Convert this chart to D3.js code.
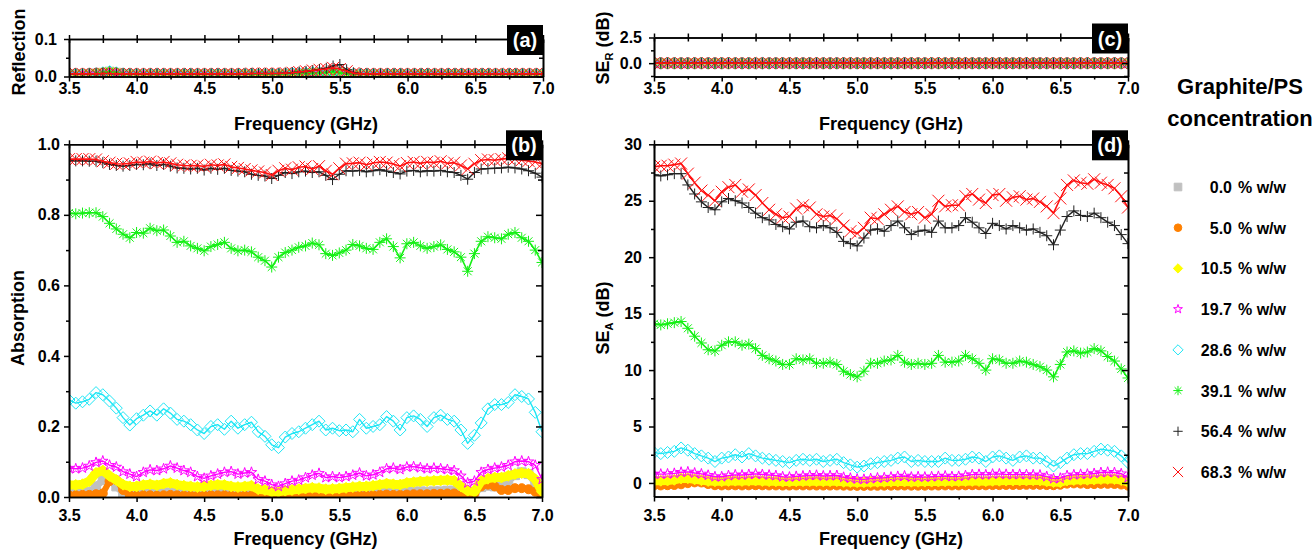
<!DOCTYPE html>
<html><head><meta charset="utf-8">
<script src="https://cdn.jsdelivr.net/npm/d3@7"></script>
<style>body{margin:0;background:#fff;} svg{display:block;}</style>
</head><body><svg id="c" width="1312" height="551"></svg>
<script>
// ---------------- DATA ----------------
const freq = [3.50,3.55,3.60,3.65,3.70,3.75,3.80,3.85,3.90,3.95,
4.00,4.05,4.10,4.15,4.20,4.25,4.30,4.35,4.40,4.45,
4.50,4.55,4.60,4.65,4.70,4.75,4.80,4.85,4.90,4.95,
5.00,5.05,5.10,5.15,5.20,5.25,5.30,5.35,5.40,5.45,
5.50,5.55,5.60,5.65,5.70,5.75,5.80,5.85,5.90,5.95,
6.00,6.05,6.10,6.15,6.20,6.25,6.30,6.35,6.40,6.45,
6.50,6.55,6.60,6.65,6.70,6.75,6.80,6.85,6.90,6.95,7.00];

const concentrations = ["0.0","5.0","10.5","19.7","28.6","39.1","56.4","68.3"];
const xMajorTicks = [3.5,4.0,4.5,5.0,5.5,6.0,6.5,7.0];
const xMinorTicks = [3.75,4.25,4.75,5.25,5.75,6.25,6.75];

// (a) Reflection
const refl683 = [0.007,0.007,0.007,0.007,0.007,0.008,0.008,0.007,0.007,0.007,
0.007,0.007,0.007,0.007,0.007,0.007,0.007,0.007,0.007,0.007,
0.007,0.007,0.007,0.007,0.007,0.007,0.007,0.008,0.008,0.008,
0.008,0.008,0.009,0.010,0.012,0.014,0.016,0.018,0.020,0.023,
0.020,0.014,0.009,0.007,0.007,0.007,0.007,0.007,0.007,0.007,
0.007,0.007,0.007,0.007,0.007,0.007,0.007,0.007,0.007,0.007,
0.007,0.007,0.007,0.007,0.007,0.007,0.007,0.007,0.007,0.007,0.007];
const refl564 = [0.007,0.007,0.007,0.007,0.007,0.008,0.008,0.007,0.007,0.007,
0.007,0.007,0.007,0.007,0.007,0.007,0.007,0.007,0.007,0.007,
0.007,0.007,0.007,0.007,0.007,0.007,0.007,0.008,0.008,0.008,
0.008,0.008,0.009,0.010,0.012,0.014,0.016,0.019,0.022,0.028,
0.032,0.018,0.010,0.007,0.007,0.007,0.007,0.007,0.007,0.007,
0.007,0.007,0.007,0.007,0.007,0.007,0.007,0.007,0.007,0.007,
0.007,0.007,0.007,0.007,0.007,0.007,0.007,0.007,0.007,0.007,0.007];
const reflLow = [0.006,0.006,0.006,0.007,0.008,0.010,0.013,0.010,0.007,0.006,
0.006,0.006,0.006,0.006,0.006,0.006,0.006,0.006,0.006,0.006,
0.006,0.006,0.006,0.006,0.006,0.006,0.006,0.006,0.006,0.006,
0.006,0.006,0.007,0.008,0.008,0.009,0.010,0.010,0.011,0.012,
0.010,0.008,0.006,0.006,0.006,0.006,0.006,0.006,0.006,0.006,
0.006,0.006,0.006,0.006,0.006,0.006,0.006,0.006,0.006,0.006,
0.006,0.006,0.006,0.006,0.006,0.006,0.006,0.006,0.006,0.006,0.006];

// (c) SE_R (all concentrations coincide at ~0 dB)
const seRAll = [0,0,0,0,0,0,0,0,0,0, 0,0,0,0,0,0,0,0,0,0, 0,0,0,0,0,0,0,0,0,0,
0,0,0,0,0,0,0,0,0,0, 0,0,0,0,0,0,0,0,0,0, 0,0,0,0,0,0,0,0,0,0, 0,0,0,0,0,0,0,0,0,0,0];

// (b) Absorption
const abs00 = [0.008,0.008,0.010,0.015,0.030,0.048,0.050,0.030,0.012,0.008,
0.010,0.012,0.012,0.010,0.012,0.013,0.012,0.010,0.010,0.008,
0.008,0.010,0.010,0.012,0.010,0.008,0.008,0.010,0.006,0.005,
0.004,0.004,0.005,0.006,0.006,0.007,0.008,0.008,0.007,0.007,
0.008,0.008,0.009,0.010,0.010,0.010,0.012,0.014,0.013,0.012,
0.014,0.015,0.016,0.015,0.016,0.016,0.018,0.018,0.012,0.006,
0.010,0.028,0.032,0.030,0.028,0.045,0.062,0.070,0.065,0.040,0.008];
const abs50 = [0.005,0.005,0.006,0.006,0.008,0.010,0.045,0.048,0.020,0.005,
0.004,0.005,0.005,0.004,0.005,0.006,0.005,0.004,0.004,0.004,
0.004,0.005,0.005,0.005,0.004,0.004,0.004,0.004,0.003,0.003,
0.002,0.002,0.003,0.003,0.003,0.003,0.004,0.004,0.003,0.003,
0.003,0.004,0.004,0.005,0.005,0.005,0.006,0.007,0.006,0.006,
0.007,0.008,0.008,0.008,0.009,0.009,0.010,0.010,0.006,0.004,
0.010,0.030,0.035,0.030,0.020,0.020,0.025,0.025,0.022,0.015,0.005];
const abs105 = [0.034,0.034,0.036,0.045,0.068,0.075,0.060,0.048,0.035,0.030,
0.030,0.034,0.036,0.033,0.038,0.040,0.035,0.032,0.030,0.028,
0.030,0.033,0.035,0.034,0.030,0.028,0.030,0.032,0.022,0.020,
0.015,0.015,0.018,0.020,0.022,0.024,0.026,0.025,0.022,0.023,
0.024,0.026,0.028,0.030,0.030,0.032,0.035,0.038,0.036,0.035,
0.040,0.042,0.044,0.045,0.046,0.047,0.048,0.046,0.030,0.018,
0.015,0.045,0.052,0.055,0.055,0.060,0.065,0.068,0.066,0.050,0.015];
const abs197 = [0.082,0.080,0.082,0.088,0.098,0.102,0.090,0.085,0.072,0.065,
0.058,0.070,0.077,0.075,0.080,0.088,0.082,0.075,0.070,0.058,
0.053,0.060,0.065,0.070,0.072,0.065,0.068,0.070,0.050,0.045,
0.035,0.030,0.038,0.045,0.048,0.055,0.062,0.067,0.055,0.058,
0.055,0.058,0.062,0.068,0.060,0.063,0.070,0.080,0.082,0.078,
0.085,0.086,0.083,0.080,0.082,0.080,0.078,0.075,0.060,0.040,
0.045,0.070,0.078,0.082,0.085,0.090,0.100,0.102,0.100,0.090,0.050];
const abs286 = [0.275,0.266,0.270,0.277,0.296,0.290,0.272,0.252,0.225,0.204,
0.222,0.232,0.244,0.232,0.250,0.238,0.220,0.215,0.205,0.190,
0.180,0.200,0.205,0.192,0.215,0.195,0.205,0.212,0.185,0.172,
0.148,0.140,0.170,0.180,0.185,0.195,0.205,0.215,0.190,0.195,
0.188,0.190,0.185,0.220,0.195,0.200,0.205,0.228,0.215,0.190,
0.225,0.230,0.220,0.200,0.225,0.232,0.220,0.215,0.190,0.152,
0.175,0.210,0.250,0.262,0.262,0.268,0.290,0.285,0.278,0.240,0.185];
const abs391 = [0.805,0.803,0.805,0.806,0.806,0.795,0.776,0.760,0.745,0.735,
0.750,0.748,0.762,0.755,0.757,0.740,0.722,0.725,0.712,0.705,
0.698,0.710,0.716,0.722,0.705,0.698,0.700,0.695,0.680,0.670,
0.652,0.680,0.693,0.700,0.708,0.712,0.720,0.715,0.690,0.685,
0.692,0.700,0.716,0.712,0.705,0.702,0.722,0.732,0.710,0.678,
0.718,0.722,0.712,0.705,0.710,0.715,0.702,0.695,0.680,0.640,
0.690,0.725,0.738,0.735,0.732,0.745,0.750,0.735,0.725,0.700,0.665];
const abs564 = [0.953,0.953,0.953,0.952,0.952,0.948,0.943,0.940,0.938,0.940,
0.943,0.942,0.945,0.940,0.943,0.938,0.933,0.932,0.930,0.932,
0.927,0.932,0.929,0.932,0.926,0.924,0.922,0.915,0.912,0.910,
0.903,0.912,0.920,0.917,0.922,0.924,0.920,0.922,0.912,0.900,
0.915,0.925,0.924,0.926,0.922,0.925,0.928,0.924,0.920,0.916,
0.924,0.926,0.922,0.925,0.924,0.926,0.922,0.920,0.912,0.901,
0.920,0.930,0.931,0.932,0.933,0.935,0.933,0.930,0.925,0.918,0.907];
const abs683 = [0.958,0.958,0.958,0.958,0.957,0.952,0.948,0.945,0.944,0.946,
0.950,0.948,0.951,0.947,0.950,0.946,0.942,0.940,0.939,0.940,
0.937,0.942,0.940,0.943,0.936,0.933,0.930,0.926,0.923,0.920,
0.913,0.925,0.932,0.928,0.935,0.937,0.930,0.938,0.925,0.915,
0.932,0.945,0.946,0.948,0.942,0.947,0.950,0.948,0.944,0.938,
0.947,0.950,0.946,0.950,0.948,0.952,0.946,0.948,0.940,0.930,
0.945,0.955,0.957,0.955,0.958,0.960,0.958,0.955,0.953,0.950,0.945];

// (d) SE_A (dB)
const seA00 = [0.00,0.00,0.02,0.06,0.14,0.22,0.24,0.14,0.04,0.00,
0.02,0.04,0.04,0.03,0.04,0.04,0.04,0.02,0.02,0.00,
0.00,0.02,0.02,0.03,0.02,0.00,0.00,0.02,-0.02,-0.04,
-0.05,-0.05,-0.04,-0.03,-0.03,-0.02,-0.02,-0.02,-0.03,-0.03,
-0.02,-0.02,-0.01,0.00,0.00,0.00,0.01,0.02,0.02,0.01,
0.03,0.03,0.04,0.04,0.04,0.05,0.05,0.05,0.02,-0.02,
0.02,0.10,0.12,0.11,0.10,0.16,0.24,0.28,0.26,0.16,-0.02];
const seA50 = [-0.22,-0.22,-0.20,-0.18,-0.12,-0.02,0.05,0.04,-0.10,-0.20,
-0.22,-0.21,-0.21,-0.22,-0.21,-0.20,-0.21,-0.22,-0.22,-0.23,
-0.23,-0.22,-0.22,-0.22,-0.23,-0.23,-0.23,-0.22,-0.24,-0.25,
-0.26,-0.26,-0.25,-0.25,-0.24,-0.24,-0.23,-0.23,-0.24,-0.24,
-0.24,-0.23,-0.23,-0.22,-0.22,-0.22,-0.21,-0.20,-0.20,-0.21,
-0.19,-0.19,-0.18,-0.18,-0.18,-0.17,-0.17,-0.17,-0.19,-0.20,
-0.16,-0.06,-0.04,-0.06,-0.10,-0.10,-0.08,-0.08,-0.09,-0.14,-0.24];
const seA105 = [0.20,0.20,0.22,0.28,0.40,0.42,0.32,0.25,0.18,0.15,
0.15,0.18,0.20,0.18,0.20,0.22,0.18,0.16,0.15,0.12,
0.12,0.15,0.16,0.16,0.15,0.14,0.15,0.16,0.10,0.08,
0.06,0.06,0.08,0.10,0.10,0.12,0.13,0.13,0.11,0.11,
0.12,0.12,0.13,0.14,0.14,0.15,0.16,0.18,0.17,0.16,
0.19,0.20,0.21,0.21,0.22,0.22,0.23,0.22,0.14,0.08,
0.07,0.22,0.26,0.28,0.28,0.30,0.34,0.36,0.34,0.26,0.08];
const seA197 = [0.80,0.78,0.80,0.85,0.95,0.98,0.88,0.80,0.68,0.55,
0.55,0.65,0.72,0.70,0.75,0.80,0.75,0.70,0.65,0.55,
0.52,0.58,0.62,0.66,0.68,0.62,0.64,0.66,0.50,0.42,
0.35,0.32,0.38,0.44,0.46,0.52,0.58,0.62,0.52,0.55,
0.52,0.55,0.58,0.62,0.56,0.58,0.65,0.74,0.76,0.72,
0.78,0.80,0.76,0.74,0.76,0.74,0.72,0.70,0.56,0.38,
0.42,0.65,0.72,0.76,0.78,0.84,0.92,0.95,0.92,0.82,0.48];
const seA286 = [2.7,2.6,2.7,2.8,3.1,2.9,2.6,2.4,2.2,1.9,
2.2,2.3,2.5,2.3,2.6,2.4,2.2,2.1,2.0,1.9,
1.8,2.0,2.1,2.0,2.1,1.9,2.0,2.1,1.8,1.6,
1.4,1.5,1.7,1.8,1.9,2.0,2.2,2.3,1.9,2.0,
1.9,1.9,1.9,2.2,2.0,2.0,2.1,2.3,2.2,1.9,
2.3,2.4,2.2,2.0,2.3,2.4,2.2,2.2,1.9,1.5,
1.8,2.2,2.5,2.6,2.6,2.8,3.0,2.9,2.8,2.4,1.8];
const seA391 = [14.1,14.0,14.1,14.2,14.3,13.7,13.0,12.4,11.8,11.7,
12.2,12.5,12.5,12.2,12.3,11.9,11.3,11.0,10.8,10.5,
10.5,11.0,10.9,11.0,10.6,10.6,10.7,10.5,9.9,9.6,
9.4,9.9,10.6,10.6,10.8,10.9,11.3,10.7,10.5,10.6,
10.5,10.6,11.3,10.7,10.7,10.8,11.3,11.0,10.6,10.0,
11.0,10.9,10.6,10.6,10.8,10.7,10.5,10.3,10.0,9.4,
10.5,11.6,11.7,11.5,11.6,11.9,11.7,11.2,10.8,10.1,9.3];
const seA564 = [27.3,27.2,27.3,27.4,27.4,26.4,25.6,24.9,24.4,24.2,
24.9,25.2,25.0,24.8,24.4,23.9,23.5,23.3,22.9,22.7,
22.5,23.1,23.2,22.7,22.6,22.8,22.6,22.2,21.4,21.2,
21.0,21.7,22.4,22.5,22.3,22.8,23.2,22.6,22.0,22.3,
22.4,22.2,23.2,22.6,22.6,22.8,23.5,23.1,22.6,22.1,
23.0,22.8,22.5,22.8,22.6,22.4,22.5,22.2,21.9,21.1,
22.4,23.6,24.1,23.7,23.6,23.9,23.5,23.1,22.8,22.0,21.2];
const seA683 = [28.0,28.1,28.1,28.2,28.3,27.4,26.6,25.9,25.5,25.0,
25.8,26.2,26.4,25.8,26.0,25.5,24.8,24.2,23.8,23.5,
23.6,24.3,24.6,24.4,23.8,23.6,23.7,23.4,22.8,22.3,
22.1,22.6,23.5,23.4,23.8,24.2,24.5,24.0,23.8,24.0,
23.5,23.8,25.0,24.5,24.6,24.6,25.4,25.6,25.1,24.8,
25.5,25.6,25.0,25.3,25.4,25.1,25.2,24.9,24.5,23.9,
25.2,26.4,26.8,26.6,26.5,26.9,26.6,26.4,26.1,25.4,24.4];

// ---------------- STYLE ----------------
const FONT = '"Liberation Sans", Arial, Helvetica, sans-serif';
const styles = [
  {type:'square',  color:'#c0c0c0', fill:true,  h:4.5, lw:7},
  {type:'circle',  color:'#ff8000', fill:true,  h:4.5, lw:6},
  {type:'diamond', color:'#ffff00', fill:true,  h:5.5, lw:9},
  {type:'star',    color:'#ff00ff', fill:false, h:5.5, lw:1.4},
  {type:'diamond', color:'#1ee6f5', fill:false, h:6,   lw:1.4},
  {type:'asterisk',color:'#14f014', fill:false, h:5.5, lw:1.6},
  {type:'plus',    color:'#222222', fill:false, h:5.5, lw:1.4},
  {type:'x',       color:'#ff1010', fill:false, h:6,   lw:1.6}
];
function markerPath(type, h){
  switch(type){
    case 'square': return `M${-h},${-h}H${h}V${h}H${-h}Z`;
    case 'circle': return d3.symbol(d3.symbolCircle, Math.PI*h*h)();
    case 'diamond': return `M0,${-h}L${h},0L0,${h}L${-h},0Z`;
    case 'star': return d3.symbol(d3.symbolStar, h*h/0.8908130915292852)();
    case 'plus': return `M${-h},0H${h}M0,${-h}V${h}`;
    case 'x': return `M${-h},${-h}L${h},${h}M${-h},${h}L${h},${-h}`;
    case 'asterisk': { const k=h*0.72; return `M${-h},0H${h}M0,${-h}V${h}M${-k},${-k}L${k},${k}M${-k},${k}L${k},${-k}`; }
  }
}

const svg = d3.select('#c');

const panels = [
  {key:'a', x0:69, x1:543, yTop:39, yBot:76.5, yDomain:[0,0.1], yMajor:[0,0.1], yMinor:[0.05],
   fmt:d3.format('.1f'), xPad:1.5, yPad:7, series:[reflLow,reflLow,reflLow,reflLow,reflLow,reflLow,refl564,refl683],
   xTitleY:130, yTitle:[{t:'Reflection'}], yTitleX:25, yTitleY:52, label:'(a)'},
  {key:'c', x0:654, x1:1128, yTop:37.5, yBot:76.5, yDomain:[-1.3,2.5], yMajor:[0,2.5], yMinor:[1.25,-1.25],
   fmt:d3.format('.1f'), xPad:1.5, yPad:7, series:[seRAll,seRAll,seRAll,seRAll,seRAll,seRAll,seRAll,seRAll],
   xTitleY:130, yTitle:[{t:'SE'},{t:'R',sub:true},{t:' (dB)'}], yTitleX:609, yTitleY:48, label:'(c)'},
  {key:'b', x0:69, x1:542, yTop:144.3, yBot:497, yDomain:[0,1], yMajor:[0,0.2,0.4,0.6,0.8,1.0], yMinor:[0.1,0.3,0.5,0.7,0.9],
   fmt:d3.format('.1f'), xPad:8, yPad:4, series:[abs00,abs50,abs105,abs197,abs286,abs391,abs564,abs683],
   xTitleY:545, yTitle:[{t:'Absorption'}], yTitleX:24, yTitleY:318, label:'(b)'},
  {key:'d', x0:654, x1:1128, yTop:144.3, yBot:496.5, yDomain:[-1.2,30], yMajor:[0,5,10,15,20,25,30], yMinor:[2.5,7.5,12.5,17.5,22.5,27.5],
   fmt:d3.format('d'), xPad:8, yPad:7, series:[seA00,seA50,seA105,seA197,seA286,seA391,seA564,seA683],
   xTitleY:545, yTitle:[{t:'SE'},{t:'A',sub:true},{t:' (dB)'}], yTitleX:609, yTitleY:318, label:'(d)'}
];

function styleAxis(g, showText){
  g.attr('font-family', FONT).attr('font-size', 16).attr('font-weight','bold');
  g.selectAll('.domain').attr('stroke','#000').attr('stroke-width',1.6);
  g.selectAll('.tick line').attr('stroke','#000').attr('stroke-width',1.5);
  g.selectAll('.tick text').attr('fill','#000');
  if(!showText){ g.selectAll('.tick text').remove(); }
}

panels.forEach(p=>{
  const x = d3.scaleLinear().domain([3.5,7.0]).range([p.x0,p.x1]);
  const y = d3.scaleLinear().domain(p.yDomain).range([p.yBot,p.yTop]);
  const clipId = 'clip-'+p.key;
  svg.append('clipPath').attr('id',clipId).append('rect')
    .attr('x',p.x0).attr('y',p.yTop).attr('width',p.x1-p.x0).attr('height',p.yBot-p.yTop);
  const plot = svg.append('g').attr('clip-path',`url(#${clipId})`);
  p.series.forEach((vals,i)=>{
    const st = styles[i];
    const pts = freq.map((f,j)=>({f, v:vals[j]}));
    plot.append('path').datum(pts)
      .attr('d', d3.line().x(d=>x(d.f)).y(d=>y(d.v)))
      .attr('fill','none').attr('stroke',st.color).attr('stroke-width', st.lw)
      .attr('stroke-linejoin','round');
    const dstr = markerPath(st.type, st.h);
    plot.append('g').selectAll('path').data(pts).join('path')
      .attr('d', dstr)
      .attr('transform', d=>`translate(${x(d.f)},${y(d.v)})`)
      .attr('fill', st.fill ? st.color : 'none')
      .attr('stroke', st.color).attr('stroke-width', 1);
  });

  // axes
  const gx = svg.append('g').attr('transform',`translate(0,${p.yBot})`)
    .call(d3.axisBottom(x).tickValues(xMajorTicks).tickSize(5).tickSizeOuter(0).tickPadding(p.xPad).tickFormat(d3.format('.1f')));
  styleAxis(gx, true);
  const gxm = svg.append('g').attr('transform',`translate(0,${p.yBot})`)
    .call(d3.axisBottom(x).tickValues(xMinorTicks).tickSize(3).tickSizeOuter(0).tickFormat(''));
  styleAxis(gxm, false);
  const gt1 = svg.append('g').attr('transform',`translate(0,${p.yTop})`)
    .call(d3.axisTop(x).tickValues(xMajorTicks.concat(xMinorTicks)).tickSize(4).tickSizeOuter(0).tickFormat(''));
  styleAxis(gt1, false);
  const gt2 = svg.append('g').attr('transform',`translate(0,${p.yTop})`)
    .call(d3.axisBottom(x).tickValues(xMajorTicks.concat(xMinorTicks)).tickSize(4).tickSizeOuter(0).tickFormat(''));
  styleAxis(gt2, false);

  const gy = svg.append('g').attr('transform',`translate(${p.x0},0)`)
    .call(d3.axisLeft(y).tickValues(p.yMajor).tickSize(5).tickSizeOuter(0).tickPadding(p.yPad).tickFormat(p.fmt));
  styleAxis(gy, true);
  const gym = svg.append('g').attr('transform',`translate(${p.x0},0)`)
    .call(d3.axisLeft(y).tickValues(p.yMinor).tickSize(3).tickSizeOuter(0).tickFormat(''));
  styleAxis(gym, false);
  const gr = svg.append('g').attr('transform',`translate(${p.x1},0)`)
    .call(d3.axisLeft(y).tickValues(p.yMajor).tickSize(6).tickSizeOuter(0).tickFormat(''));
  styleAxis(gr, false);
  const grm = svg.append('g').attr('transform',`translate(${p.x1},0)`)
    .call(d3.axisLeft(y).tickValues(p.yMinor).tickSize(4).tickSizeOuter(0).tickFormat(''));
  styleAxis(grm, false);

  // axis titles
  svg.append('text').attr('x',(p.x0+p.x1)/2).attr('y',p.xTitleY)
    .attr('text-anchor','middle').attr('font-family',FONT).attr('font-weight','bold').attr('font-size',18)
    .text('Frequency (GHz)');
  const yt = svg.append('text')
    .attr('transform',`translate(${p.yTitleX},${p.yTitleY}) rotate(-90)`)
    .attr('text-anchor','middle').attr('font-family',FONT).attr('font-weight','bold').attr('font-size',18);
  p.yTitle.forEach(part=>{
    const ts = yt.append('tspan').text(part.t);
    if(part.sub){ ts.attr('font-size',11).attr('dy',4); }
    else if(yt.selectAll('tspan').size()>1){ ts.attr('dy',-4); }
  });

  // panel label box
  svg.append('rect').attr('x',p.x1-36).attr('y',p.yTop-14).attr('width',36).attr('height',30).attr('fill','#000');
  svg.append('text').attr('x',p.x1-18).attr('y',p.yTop+8).attr('text-anchor','middle')
    .attr('font-family',FONT).attr('font-weight','bold').attr('font-size',20).attr('fill','#fff').text(p.label);
});

// ---------------- LEGEND ----------------
const leg = svg.append('g').attr('font-family',FONT).attr('font-weight','bold');
leg.append('text').attr('x',1240).attr('y',94).attr('text-anchor','middle').attr('font-size',22).text('Graphite/PS');
leg.append('text').attr('x',1240).attr('y',126).attr('text-anchor','middle').attr('font-size',22).text('concentration');
const rowY = d3.scaleLinear().domain([0,7]).range([187,472]);
concentrations.forEach((c,i)=>{
  const st = styles[i];
  const yy = rowY(i);
  leg.append('path').attr('d', markerPath(st.type, st.h*0.85))
    .attr('transform',`translate(1178,${yy})`)
    .attr('fill', st.fill ? st.color : 'none').attr('stroke', st.color).attr('stroke-width',1);
  leg.append('text').attr('x',1232).attr('y',yy+6).attr('text-anchor','end').attr('font-size',16).text(c);
  leg.append('text').attr('x',1238).attr('y',yy+6).attr('font-size',16).text('% w/w');
});
</script></body></html>
